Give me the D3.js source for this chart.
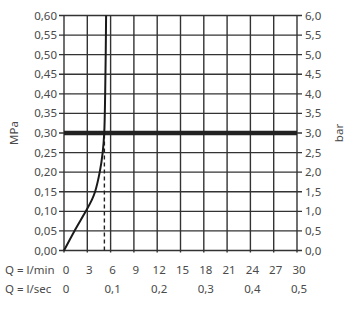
<!DOCTYPE html>
<html>
<head>
<meta charset="utf-8">
<script src="https://cdn.jsdelivr.net/npm/d3@7"></script>
<style>
  body { margin: 0; background: #fff; }
  text { font-family: "Noto Sans", sans-serif; fill: #4a4a4a; }
</style>
</head>
<body>
<svg id="chart"></svg>
<script>
// flow in l/min vs pressure in MPa
var flowValues = [0, 1.35, 2.8, 3.6, 4.0, 4.6, 4.98, 5.18, 5.3, 5.37, 5.42];
var pressureValues = [0, 0.05, 0.10, 0.13, 0.15, 0.20, 0.25, 0.30, 0.40, 0.50, 0.60];
var refPressure = 0.30;
var refFlow = 5.2;

var mpaTicks = d3.range(0, 0.601, 0.05);
var minTicks = d3.range(0, 30.1, 3);
var secTicks = [0, 0.1, 0.2, 0.3, 0.4, 0.5];

var screen = { width: 360, height: 311 };
var margins = { top: 15.5, bottom: 60.5, left: 64, right: 63 };

var graphWidth = screen.width - margins.left - margins.right;
var graphHeight = screen.height - margins.top - margins.bottom;

var svg = d3.select("#chart")
  .attr("width", screen.width)
  .attr("height", screen.height);

var x = d3.scaleLinear().domain([0, 30]).range([margins.left, margins.left + graphWidth]);
var y = d3.scaleLinear().domain([0, 0.6]).range([margins.top + graphHeight, margins.top]);
var yBar = d3.scaleLinear().domain([0, 6]).range(y.range());
var xSec = d3.scaleLinear().domain([0, 0.5]).range(x.range());

var fmt2 = function(d) { return d3.format(".2f")(d).replace(".", ","); };
var fmt1 = function(d) { return d3.format(".1f")(d).replace(".", ","); };
var gridColor = "#333";

// grid
svg.append("g")
  .selectAll("line")
  .data(mpaTicks)
  .join("line")
    .attr("x1", margins.left - 5)
    .attr("x2", margins.left + graphWidth + 5)
    .attr("y1", d => y(d))
    .attr("y2", d => y(d))
    .attr("stroke", gridColor)
    .attr("stroke-width", 1.4);

svg.append("g")
  .selectAll("line")
  .data(minTicks)
  .join("line")
    .attr("x1", d => x(d))
    .attr("x2", d => x(d))
    .attr("y1", margins.top)
    .attr("y2", margins.top + graphHeight + 2)
    .attr("stroke", gridColor)
    .attr("stroke-width", 1.4);

// left labels
svg.append("g")
  .selectAll("text")
  .data(mpaTicks)
  .join("text")
    .attr("x", margins.left - 7)
    .attr("y", d => y(d))
    .attr("dy", "0.35em")
    .attr("text-anchor", "end")
    .attr("font-size", 11.5)
    .text(fmt2);

// right labels
svg.append("g")
  .selectAll("text")
  .data(d3.range(0, 6.01, 0.5))
  .join("text")
    .attr("x", margins.left + graphWidth + 8)
    .attr("y", d => yBar(d))
    .attr("dy", "0.35em")
    .attr("font-size", 11.5)
    .text(fmt1);

// bottom labels
svg.append("g")
  .selectAll("text")
  .data(minTicks)
  .join("text")
    .attr("x", d => x(d) + 2)
    .attr("y", 274)
    .attr("text-anchor", "middle")
    .attr("font-size", 11.5)
    .text(d => d);

svg.append("g")
  .selectAll("text")
  .data(secTicks)
  .join("text")
    .attr("x", d => xSec(d) + 2)
    .attr("y", 293)
    .attr("text-anchor", "middle")
    .attr("font-size", 11.5)
    .text(d => d === 0 ? "0" : fmt1(d));

svg.append("text").attr("x", 5).attr("y", 274).attr("font-size", 11.5).text("Q = l/min");
svg.append("text").attr("x", 5).attr("y", 293).attr("font-size", 11.5).text("Q = l/sec");

svg.append("text")
  .attr("transform", "translate(18," + y(0.3) + ") rotate(-90)")
  .attr("text-anchor", "middle")
  .attr("font-size", 11.5)
  .text("MPa");

svg.append("text")
  .attr("transform", "translate(343," + y(0.3) + ") rotate(-90)")
  .attr("text-anchor", "middle")
  .attr("font-size", 11.5)
  .text("bar");

// dashed reference
svg.append("line")
  .attr("x1", x(refFlow))
  .attr("x2", x(refFlow))
  .attr("y1", y(0))
  .attr("y2", y(refPressure))
  .attr("stroke", "#222")
  .attr("stroke-width", 1.4)
  .attr("stroke-dasharray", "4,3");

// thick pressure line
svg.append("line")
  .attr("x1", margins.left)
  .attr("x2", margins.left + graphWidth)
  .attr("y1", y(refPressure))
  .attr("y2", y(refPressure))
  .attr("stroke", "#222")
  .attr("stroke-width", 4.5);

// curve
var line = d3.line()
  .x((d, i) => x(flowValues[i]))
  .y(d => y(d))
  .curve(d3.curveCatmullRom.alpha(0.5));

svg.append("path")
  .datum(pressureValues)
  .attr("d", line)
  .attr("fill", "none")
  .attr("stroke", "#1a1a1a")
  .attr("stroke-width", 2);
</script>
</body>
</html>
